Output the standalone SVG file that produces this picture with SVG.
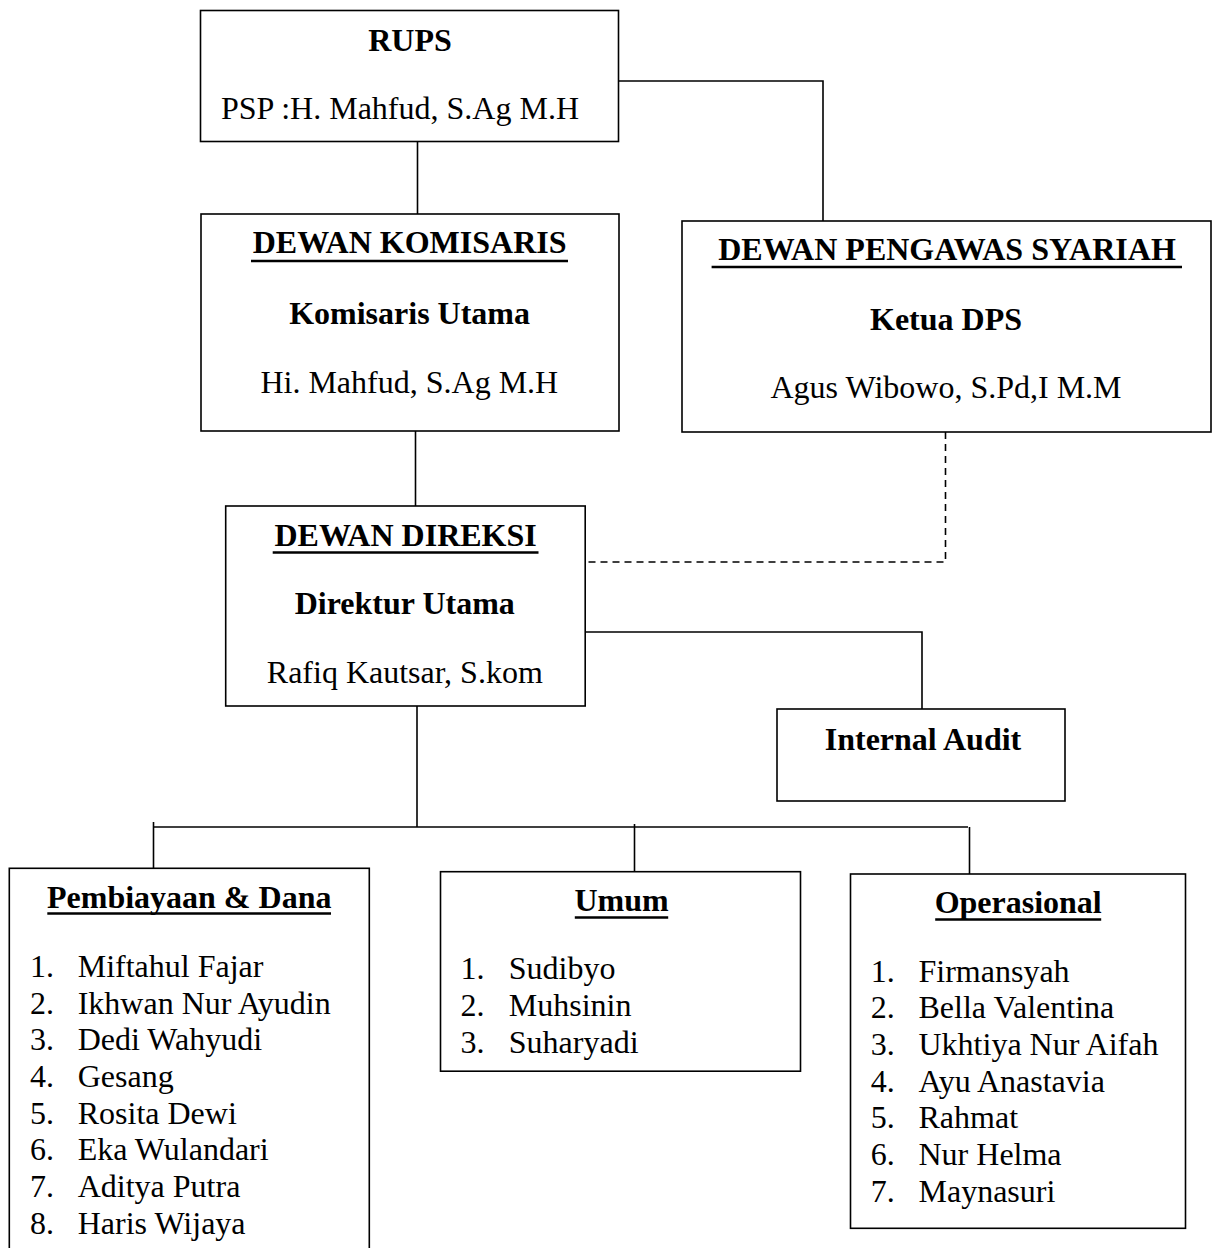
<svg xmlns="http://www.w3.org/2000/svg" width="1216" height="1248" viewBox="0 0 1216 1248">
<style>
.box{fill:#fff;stroke:#000;stroke-width:1.6}
.ln{fill:none;stroke:#000;stroke-width:1.6}
.dash{fill:none;stroke:#000;stroke-width:1.6;stroke-dasharray:7 5}
.ul{stroke:#000;stroke-width:2.4}
text{font-family:"Liberation Serif","Times New Roman",serif;font-size:32px;fill:#000}
.b{font-weight:bold}
.c{text-anchor:middle}
</style>
<rect width="1216" height="1248" fill="#fff"/>
<g id="connectors">
<path class="ln" d="M417.5 141V214"/>
<path class="ln" d="M618 81H823V221"/>
<path class="ln" d="M415.5 431V506"/>
<path class="dash" d="M945.5 432V562H585"/>
<path class="ln" d="M585 632H922V709"/>
<path class="ln" d="M417 706V827"/>
<path class="ln" d="M153.5 827H968"/>
<path class="ln" d="M153.5 822V868"/>
<path class="ln" d="M634.5 824V872"/>
<path class="ln" d="M969.5 827V875"/>
</g>
<g id="rups">
<rect class="box" x="200.5" y="10.5" width="418" height="131"/>
<text class="b c" x="410" y="51">RUPS</text>
<text x="221" y="119">PSP :H. Mahfud, S.Ag M.H</text>
</g>
<g id="komisaris">
<rect class="box" x="201" y="214" width="418" height="217"/>
<text class="b c" x="409.6" y="253">DEWAN KOMISARIS</text>
<line class="ul" x1="251" y1="261" x2="568" y2="261"/>
<text class="b c" x="409.6" y="324">Komisaris Utama</text>
<text class="c" x="409.3" y="393">Hi. Mahfud, S.Ag M.H</text>
</g>
<g id="dps">
<rect class="box" x="682" y="221" width="529" height="211"/>
<text class="b c" x="947" y="260">DEWAN PENGAWAS SYARIAH</text>
<line class="ul" x1="711.6" y1="267" x2="1182" y2="267"/>
<text class="b c" x="946" y="330">Ketua DPS</text>
<text class="c" x="946" y="398">Agus Wibowo, S.Pd,I M.M</text>
</g>
<g id="direksi">
<rect class="box" x="225.7" y="506" width="359.5" height="200"/>
<text class="b c" x="405.6" y="546">DEWAN DIREKSI</text>
<line class="ul" x1="272.7" y1="552.5" x2="538.5" y2="552.5"/>
<text class="b c" x="404.8" y="614">Direktur Utama</text>
<text class="c" x="404.8" y="683">Rafiq Kautsar, S.kom</text>
</g>
<g id="internal-audit">
<rect class="box" x="777" y="709" width="288" height="92"/>
<text class="b c" x="923" y="750">Internal Audit</text>
</g>
<g id="pembiayaan">
<rect class="box" x="9.3" y="868.3" width="360" height="400"/>
<text class="b c" x="189.2" y="908">Pembiayaan &amp; Dana</text>
<line class="ul" x1="47.3" y1="913.5" x2="331" y2="913.5"/>
<text x="30" y="977">1.</text><text x="77.7" y="977">Miftahul Fajar</text>
<text x="30" y="1013.6">2.</text><text x="77.7" y="1013.6">Ikhwan Nur Ayudin</text>
<text x="30" y="1050.3">3.</text><text x="77.7" y="1050.3">Dedi Wahyudi</text>
<text x="30" y="1087">4.</text><text x="77.7" y="1087">Gesang</text>
<text x="30" y="1123.6">5.</text><text x="77.7" y="1123.6">Rosita Dewi</text>
<text x="30" y="1160.3">6.</text><text x="77.7" y="1160.3">Eka Wulandari</text>
<text x="30" y="1197">7.</text><text x="77.7" y="1197">Aditya Putra</text>
<text x="30" y="1233.6">8.</text><text x="77.7" y="1233.6">Haris Wijaya</text>
</g>
<g id="umum">
<rect class="box" x="440.5" y="871.7" width="360" height="199.5"/>
<text class="b c" x="621.5" y="910.5">Umum</text>
<line class="ul" x1="574.8" y1="917.5" x2="668.2" y2="917.5"/>
<text x="460.6" y="979">1.</text><text x="508.8" y="979">Sudibyo</text>
<text x="460.6" y="1015.8">2.</text><text x="508.8" y="1015.8">Muhsinin</text>
<text x="460.6" y="1052.5">3.</text><text x="508.8" y="1052.5">Suharyadi</text>
</g>
<g id="operasional">
<rect class="box" x="850.5" y="874" width="335" height="354.3"/>
<text class="b c" x="1018.2" y="913">Operasional</text>
<line class="ul" x1="935.2" y1="919.5" x2="1101.2" y2="919.5"/>
<text x="870.8" y="981.7">1.</text><text x="918.5" y="981.7">Firmansyah</text>
<text x="870.8" y="1018.3">2.</text><text x="918.5" y="1018.3">Bella Valentina</text>
<text x="870.8" y="1055">3.</text><text x="918.5" y="1055">Ukhtiya Nur Aifah</text>
<text x="870.8" y="1091.6">4.</text><text x="918.5" y="1091.6">Ayu Anastavia</text>
<text x="870.8" y="1128.3">5.</text><text x="918.5" y="1128.3">Rahmat</text>
<text x="870.8" y="1165">6.</text><text x="918.5" y="1165">Nur Helma</text>
<text x="870.8" y="1201.6">7.</text><text x="918.5" y="1201.6">Maynasuri</text>
</g>
</svg>
